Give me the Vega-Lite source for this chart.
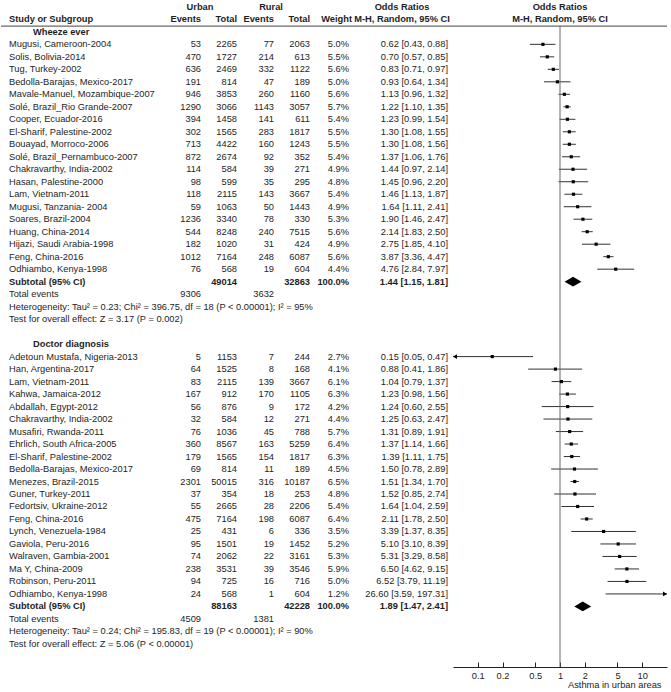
{
  "$schema": "https://vega.github.io/schema/vega-lite/v6.json",
  "padding": 0,
  "spacing": 0,
  "bounds": "flush",
  "background": "white",
  "config": {
    "view": {"stroke": null},
    "font": "Liberation Sans",
    "text": {"font": "Liberation Sans", "fontSize": 9.3, "color": "#1e1e1e"},
    "axis": {
      "grid": false,
      "labelFont": "Liberation Sans", "labelFontSize": 9.3, "labelColor": "#222", "labelPadding": 9, "labelFlush": false,
      "domainColor": "#222", "tickColor": "#222", "tickSize": -5,
      "titleFont": "Liberation Sans", "titleFontSize": 9.3, "titleFontWeight": "normal", "titleColor": "#222", "titlePadding": 0
    }
  },
  "data": {
    "values": [
      {"r": -2, "k": "top", "uh": "Urban", "rh": "Rural", "oh": "Odds Ratios"},
      {"r": -1, "k": "hd", "s": "Study or Subgroup", "ue": "Events", "ut": "Total", "re": "Events", "rt": "Total", "w": "Weight", "oh": "M-H, Random, 95% CI"},
      {"r": 0, "k": "h", "s": "Wheeze ever"},
      {"r": 1, "k": "s", "s": "Mugusi, Cameroon-2004", "ue": 53, "ut": 2265, "re": 77, "rt": 2063, "w": "5.0%", "ci": "0.62 [0.43, 0.88]", "or": 0.62, "lo": 0.43, "hi": 0.88},
      {"r": 2, "k": "s", "s": "Solis, Bolivia-2014", "ue": 470, "ut": 1727, "re": 214, "rt": 613, "w": "5.5%", "ci": "0.70 [0.57, 0.85]", "or": 0.70, "lo": 0.57, "hi": 0.85},
      {"r": 3, "k": "s", "s": "Tug, Turkey-2002", "ue": 636, "ut": 2469, "re": 332, "rt": 1122, "w": "5.6%", "ci": "0.83 [0.71, 0.97]", "or": 0.83, "lo": 0.71, "hi": 0.97},
      {"r": 4, "k": "s", "s": "Bedolla-Barajas, Mexico-2017", "ue": 191, "ut": 814, "re": 47, "rt": 189, "w": "5.0%", "ci": "0.93 [0.64, 1.34]", "or": 0.93, "lo": 0.64, "hi": 1.34},
      {"r": 5, "k": "s", "s": "Mavale-Manuel, Mozambique-2007", "ue": 946, "ut": 3853, "re": 260, "rt": 1160, "w": "5.6%", "ci": "1.13 [0.96, 1.32]", "or": 1.13, "lo": 0.96, "hi": 1.32},
      {"r": 6, "k": "s", "s": "Solé, Brazil_Rio Grande-2007", "ue": 1290, "ut": 3066, "re": 1143, "rt": 3057, "w": "5.7%", "ci": "1.22 [1.10, 1.35]", "or": 1.22, "lo": 1.10, "hi": 1.35},
      {"r": 7, "k": "s", "s": "Cooper, Ecuador-2016", "ue": 394, "ut": 1458, "re": 141, "rt": 611, "w": "5.4%", "ci": "1.23 [0.99, 1.54]", "or": 1.23, "lo": 0.99, "hi": 1.54},
      {"r": 8, "k": "s", "s": "El-Sharif, Palestine-2002", "ue": 302, "ut": 1565, "re": 283, "rt": 1817, "w": "5.5%", "ci": "1.30 [1.08, 1.55]", "or": 1.30, "lo": 1.08, "hi": 1.55},
      {"r": 9, "k": "s", "s": "Bouayad, Morroco-2006", "ue": 713, "ut": 4422, "re": 160, "rt": 1243, "w": "5.5%", "ci": "1.30 [1.08, 1.56]", "or": 1.30, "lo": 1.08, "hi": 1.56},
      {"r": 10, "k": "s", "s": "Solé, Brazil_Pernambuco-2007", "ue": 872, "ut": 2674, "re": 92, "rt": 352, "w": "5.4%", "ci": "1.37 [1.06, 1.76]", "or": 1.37, "lo": 1.06, "hi": 1.76},
      {"r": 11, "k": "s", "s": "Chakravarthy, India-2002", "ue": 114, "ut": 584, "re": 39, "rt": 271, "w": "4.9%", "ci": "1.44 [0.97, 2.14]", "or": 1.44, "lo": 0.97, "hi": 2.14},
      {"r": 12, "k": "s", "s": "Hasan, Palestine-2000", "ue": 98, "ut": 599, "re": 35, "rt": 295, "w": "4.8%", "ci": "1.45 [0.96, 2.20]", "or": 1.45, "lo": 0.96, "hi": 2.20},
      {"r": 13, "k": "s", "s": "Lam, Vietnam-2011", "ue": 118, "ut": 2115, "re": 143, "rt": 3667, "w": "5.4%", "ci": "1.46 [1.13, 1.87]", "or": 1.46, "lo": 1.13, "hi": 1.87},
      {"r": 14, "k": "s", "s": "Mugusi, Tanzania- 2004", "ue": 59, "ut": 1063, "re": 50, "rt": 1443, "w": "4.9%", "ci": "1.64 [1.11, 2.41]", "or": 1.64, "lo": 1.11, "hi": 2.41},
      {"r": 15, "k": "s", "s": "Soares, Brazil-2004", "ue": 1236, "ut": 3340, "re": 78, "rt": 330, "w": "5.3%", "ci": "1.90 [1.46, 2.47]", "or": 1.90, "lo": 1.46, "hi": 2.47},
      {"r": 16, "k": "s", "s": "Huang, China-2014", "ue": 544, "ut": 8248, "re": 240, "rt": 7515, "w": "5.6%", "ci": "2.14 [1.83, 2.50]", "or": 2.14, "lo": 1.83, "hi": 2.50},
      {"r": 17, "k": "s", "s": "Hijazi, Saudi Arabia-1998", "ue": 182, "ut": 1020, "re": 31, "rt": 424, "w": "4.9%", "ci": "2.75 [1.85, 4.10]", "or": 2.75, "lo": 1.85, "hi": 4.10},
      {"r": 18, "k": "s", "s": "Feng, China-2016", "ue": 1012, "ut": 7164, "re": 248, "rt": 6087, "w": "5.6%", "ci": "3.87 [3.36, 4.47]", "or": 3.87, "lo": 3.36, "hi": 4.47},
      {"r": 19, "k": "s", "s": "Odhiambo, Kenya-1998", "ue": 76, "ut": 568, "re": 19, "rt": 604, "w": "4.4%", "ci": "4.76 [2.84, 7.97]", "or": 4.76, "lo": 2.84, "hi": 7.97},
      {"r": 20, "k": "sub", "s": "Subtotal (95% CI)", "ut": 49014, "rt": 32863, "w": "100.0%", "ci": "1.44 [1.15, 1.81]", "or": 1.44, "lo": 1.15, "hi": 1.81},
      {"r": 21, "k": "ev", "s": "Total events", "ue": 9306, "re": 3632},
      {"r": 22, "k": "n", "s": "Heterogeneity: Tau² = 0.23; Chi² = 396.75, df = 18 (P < 0.00001); I² = 95%"},
      {"r": 23, "k": "n", "s": "Test for overall effect: Z = 3.17 (P = 0.002)"},
      {"r": 25, "k": "h", "s": "Doctor diagnosis"},
      {"r": 26, "k": "s", "s": "Adetoun Mustafa, Nigeria-2013", "ue": 5, "ut": 1153, "re": 7, "rt": 244, "w": "2.7%", "ci": "0.15 [0.05, 0.47]", "or": 0.15, "lo": 0.05, "hi": 0.47},
      {"r": 27, "k": "s", "s": "Han, Argentina-2017", "ue": 64, "ut": 1525, "re": 8, "rt": 168, "w": "4.1%", "ci": "0.88 [0.41, 1.86]", "or": 0.88, "lo": 0.41, "hi": 1.86},
      {"r": 28, "k": "s", "s": "Lam, Vietnam-2011", "ue": 83, "ut": 2115, "re": 139, "rt": 3667, "w": "6.1%", "ci": "1.04 [0.79, 1.37]", "or": 1.04, "lo": 0.79, "hi": 1.37},
      {"r": 29, "k": "s", "s": "Kahwa, Jamaica-2012", "ue": 167, "ut": 912, "re": 170, "rt": 1105, "w": "6.3%", "ci": "1.23 [0.98, 1.56]", "or": 1.23, "lo": 0.98, "hi": 1.56},
      {"r": 30, "k": "s", "s": "Abdallah, Egypt-2012", "ue": 56, "ut": 876, "re": 9, "rt": 172, "w": "4.2%", "ci": "1.24 [0.60, 2.55]", "or": 1.24, "lo": 0.60, "hi": 2.55},
      {"r": 31, "k": "s", "s": "Chakravarthy, India-2002", "ue": 32, "ut": 584, "re": 12, "rt": 271, "w": "4.4%", "ci": "1.25 [0.63, 2.47]", "or": 1.25, "lo": 0.63, "hi": 2.47},
      {"r": 32, "k": "s", "s": "Musafiri, Rwanda-2011", "ue": 76, "ut": 1036, "re": 45, "rt": 788, "w": "5.7%", "ci": "1.31 [0.89, 1.91]", "or": 1.31, "lo": 0.89, "hi": 1.91},
      {"r": 33, "k": "s", "s": "Ehrlich, South Africa-2005", "ue": 360, "ut": 8567, "re": 163, "rt": 5259, "w": "6.4%", "ci": "1.37 [1.14, 1.66]", "or": 1.37, "lo": 1.14, "hi": 1.66},
      {"r": 34, "k": "s", "s": "El-Sharif, Palestine-2002", "ue": 179, "ut": 1565, "re": 154, "rt": 1817, "w": "6.3%", "ci": "1.39 [1.11, 1.75]", "or": 1.39, "lo": 1.11, "hi": 1.75},
      {"r": 35, "k": "s", "s": "Bedolla-Barajas, Mexico-2017", "ue": 69, "ut": 814, "re": 11, "rt": 189, "w": "4.5%", "ci": "1.50 [0.78, 2.89]", "or": 1.50, "lo": 0.78, "hi": 2.89},
      {"r": 36, "k": "s", "s": "Menezes, Brazil-2015", "ue": 2301, "ut": 50015, "re": 316, "rt": 10187, "w": "6.5%", "ci": "1.51 [1.34, 1.70]", "or": 1.51, "lo": 1.34, "hi": 1.70},
      {"r": 37, "k": "s", "s": "Guner, Turkey-2011", "ue": 37, "ut": 354, "re": 18, "rt": 253, "w": "4.8%", "ci": "1.52 [0.85, 2.74]", "or": 1.52, "lo": 0.85, "hi": 2.74},
      {"r": 38, "k": "s", "s": "Fedortsiv, Ukraine-2012", "ue": 55, "ut": 2665, "re": 28, "rt": 2206, "w": "5.4%", "ci": "1.64 [1.04, 2.59]", "or": 1.64, "lo": 1.04, "hi": 2.59},
      {"r": 39, "k": "s", "s": "Feng, China-2016", "ue": 475, "ut": 7164, "re": 198, "rt": 6087, "w": "6.4%", "ci": "2.11 [1.78, 2.50]", "or": 2.11, "lo": 1.78, "hi": 2.50},
      {"r": 40, "k": "s", "s": "Lynch, Venezuela-1984", "ue": 25, "ut": 431, "re": 6, "rt": 336, "w": "3.5%", "ci": "3.39 [1.37, 8.35]", "or": 3.39, "lo": 1.37, "hi": 8.35},
      {"r": 41, "k": "s", "s": "Gaviola, Peru-2016", "ue": 95, "ut": 1501, "re": 19, "rt": 1452, "w": "5.2%", "ci": "5.10 [3.10, 8.39]", "or": 5.10, "lo": 3.10, "hi": 8.39},
      {"r": 42, "k": "s", "s": "Walraven, Gambia-2001", "ue": 74, "ut": 2062, "re": 22, "rt": 3161, "w": "5.3%", "ci": "5.31 [3.29, 8.58]", "or": 5.31, "lo": 3.29, "hi": 8.58},
      {"r": 43, "k": "s", "s": "Ma Y, China-2009", "ue": 238, "ut": 3531, "re": 39, "rt": 3546, "w": "5.9%", "ci": "6.50 [4.62, 9.15]", "or": 6.50, "lo": 4.62, "hi": 9.15},
      {"r": 44, "k": "s", "s": "Robinson, Peru-2011", "ue": 94, "ut": 725, "re": 16, "rt": 716, "w": "5.0%", "ci": "6.52 [3.79, 11.19]", "or": 6.52, "lo": 3.79, "hi": 11.19},
      {"r": 45, "k": "s", "s": "Odhiambo, Kenya-1998", "ue": 24, "ut": 568, "re": 1, "rt": 604, "w": "1.2%", "ci": "26.60 [3.59, 197.31]", "or": 26.60, "lo": 3.59, "hi": 197.31},
      {"r": 46, "k": "sub", "s": "Subtotal (95% CI)", "ut": 88163, "rt": 42228, "w": "100.0%", "ci": "1.89 [1.47, 2.41]", "or": 1.89, "lo": 1.47, "hi": 2.41},
      {"r": 47, "k": "ev", "s": "Total events", "ue": 4509, "re": 1381},
      {"r": 48, "k": "n", "s": "Heterogeneity: Tau² = 0.24; Chi² = 195.83, df = 19 (P < 0.00001); I² = 90%"},
      {"r": 49, "k": "n", "s": "Test for overall effect: Z = 5.06 (P < 0.00001)"}
    ]
  },
  "hconcat": [
    {
      "width": 452,
      "height": 667,
      "encoding": {
        "y": {"field": "r", "type": "quantitative", "scale": {"domain": [-2.55, 50.85], "reverse": true, "zero": false, "nice": false}, "axis": null}
      },
      "layer": [
        {
          "transform": [{"filter": "isValid(datum.s) && datum.k != 'h'"}],
          "mark": {"type": "text", "align": "left", "fontWeight": {"expr": "datum.k == 'sub' || datum.k == 'hd' ? 'bold' : 'normal'"}},
          "encoding": {
            "x": {"datum": 8, "type": "quantitative", "scale": {"domain": [0, 452], "nice": false, "zero": false}, "axis": null},
            "text": {"field": "s", "type": "nominal"}
          }
        },
        {
          "transform": [{"filter": "datum.k == 'h'"}],
          "mark": {"type": "text", "align": "left", "fontWeight": "bold"},
          "encoding": {
            "x": {"datum": 32, "type": "quantitative", "scale": {"domain": [0, 452], "nice": false, "zero": false}, "axis": null},
            "text": {"field": "s", "type": "nominal"}
          }
        },
        {
          "transform": [{"filter": "isValid(datum.ue)"}],
          "mark": {"type": "text", "align": "right", "fontWeight": {"expr": "datum.k == 'sub' || datum.k == 'hd' ? 'bold' : 'normal'"}},
          "encoding": {
            "x": {"datum": 200, "type": "quantitative", "scale": {"domain": [0, 452], "nice": false, "zero": false}, "axis": null},
            "text": {"field": "ue", "type": "nominal"}
          }
        },
        {
          "transform": [{"filter": "isValid(datum.ut)"}],
          "mark": {"type": "text", "align": "right", "fontWeight": {"expr": "datum.k == 'sub' || datum.k == 'hd' ? 'bold' : 'normal'"}},
          "encoding": {
            "x": {"datum": 236, "type": "quantitative", "scale": {"domain": [0, 452], "nice": false, "zero": false}, "axis": null},
            "text": {"field": "ut", "type": "nominal"}
          }
        },
        {
          "transform": [{"filter": "isValid(datum.re)"}],
          "mark": {"type": "text", "align": "right", "fontWeight": {"expr": "datum.k == 'sub' || datum.k == 'hd' ? 'bold' : 'normal'"}},
          "encoding": {
            "x": {"datum": 273, "type": "quantitative", "scale": {"domain": [0, 452], "nice": false, "zero": false}, "axis": null},
            "text": {"field": "re", "type": "nominal"}
          }
        },
        {
          "transform": [{"filter": "isValid(datum.rt)"}],
          "mark": {"type": "text", "align": "right", "fontWeight": {"expr": "datum.k == 'sub' || datum.k == 'hd' ? 'bold' : 'normal'"}},
          "encoding": {
            "x": {"datum": 309, "type": "quantitative", "scale": {"domain": [0, 452], "nice": false, "zero": false}, "axis": null},
            "text": {"field": "rt", "type": "nominal"}
          }
        },
        {
          "transform": [{"filter": "isValid(datum.w)"}],
          "mark": {"type": "text", "align": "right", "dx": {"expr": "datum.k == 'hd' ? 3 : 0"}, "fontWeight": {"expr": "datum.k == 'sub' || datum.k == 'hd' ? 'bold' : 'normal'"}},
          "encoding": {
            "x": {"datum": 348, "type": "quantitative", "scale": {"domain": [0, 452], "nice": false, "zero": false}, "axis": null},
            "text": {"field": "w", "type": "nominal"}
          }
        },
        {
          "transform": [{"filter": "isValid(datum.ci)"}],
          "mark": {"type": "text", "align": "right", "fontWeight": {"expr": "datum.k == 'sub' ? 'bold' : 'normal'"}},
          "encoding": {
            "x": {"datum": 447, "type": "quantitative", "scale": {"domain": [0, 452], "nice": false, "zero": false}, "axis": null},
            "text": {"field": "ci", "type": "nominal"}
          }
        },
        {
          "transform": [{"filter": "isValid(datum.oh)"}],
          "mark": {"type": "text", "align": "center", "fontWeight": "bold"},
          "encoding": {
            "x": {"datum": 401, "type": "quantitative", "scale": {"domain": [0, 452], "nice": false, "zero": false}, "axis": null},
            "text": {"field": "oh", "type": "nominal"}
          }
        },
        {
          "transform": [{"filter": "isValid(datum.uh)"}],
          "mark": {"type": "text", "align": "center", "fontWeight": "bold"},
          "encoding": {
            "x": {"datum": 199, "type": "quantitative", "scale": {"domain": [0, 452], "nice": false, "zero": false}, "axis": null},
            "text": {"field": "uh", "type": "nominal"}
          }
        },
        {
          "transform": [{"filter": "isValid(datum.rh)"}],
          "mark": {"type": "text", "align": "center", "fontWeight": "bold"},
          "encoding": {
            "x": {"datum": 270, "type": "quantitative", "scale": {"domain": [0, 452], "nice": false, "zero": false}, "axis": null},
            "text": {"field": "rh", "type": "nominal"}
          }
        },
        {
          "transform": [{"filter": "datum.r == -1"}],
          "mark": {"type": "rule", "color": "#444", "strokeWidth": 1},
          "encoding": {
            "x": {"datum": 0, "type": "quantitative", "scale": {"domain": [0, 452], "nice": false, "zero": false}, "axis": null},
            "x2": {"datum": 452},
            "y": {"datum": -0.46, "type": "quantitative"}
          }
        }
      ]
    },
    {
      "width": 214,
      "height": 667,
      "encoding": {
        "y": {"field": "r", "type": "quantitative", "scale": {"domain": [-2.55, 50.85], "reverse": true, "zero": false, "nice": false}, "axis": null}
      },
      "layer": [
        {
          "transform": [{"filter": "datum.k == 's'"}],
          "mark": {"type": "rule", "color": "#333", "strokeWidth": 1},
          "encoding": {
            "x": {
              "field": "lo", "type": "quantitative",
              "scale": {"type": "log", "domain": [0.05, 20], "clamp": true, "nice": false},
              "axis": {
                "values": [0.1, 0.2, 0.5, 1, 2, 5, 10], "format": "~g",
                "title": "Asthma in urban areas", "titleAnchor": "end", "titleAlign": "right", "titleX": 208
              }
            },
            "x2": {"field": "hi"}
          }
        },
        {
          "transform": [{"filter": "datum.r == -1"}],
          "mark": {"type": "rule", "color": "#666", "strokeWidth": 1},
          "encoding": {
            "x": {"datum": 1, "type": "quantitative"},
            "y": {"datum": -0.46, "type": "quantitative"},
            "y2": {"datum": 50.85}
          }
        },
        {
          "transform": [{"filter": "datum.r == -1"}],
          "mark": {"type": "rule", "color": "#444", "strokeWidth": 1},
          "encoding": {
            "x": {"datum": 0.05, "type": "quantitative"},
            "x2": {"datum": 20},
            "y": {"datum": -0.46, "type": "quantitative"}
          }
        },
        {
          "transform": [{"filter": "isValid(datum.oh)"}],
          "mark": {"type": "text", "align": "center", "fontWeight": "bold"},
          "encoding": {
            "x": {"datum": 1, "type": "quantitative"},
            "text": {"field": "oh", "type": "nominal"}
          }
        },
        {
          "transform": [{"filter": "datum.k == 's' && datum.or <= 20"}],
          "mark": {"type": "point", "shape": "square", "filled": true, "color": "#000", "opacity": 1, "size": 10},
          "encoding": {
            "x": {"field": "or", "type": "quantitative"}
          }
        },
        {
          "transform": [{"filter": "datum.k == 'sub'"}],
          "mark": {"type": "point", "shape": "M-1,0L0,-0.58L1,0L0,0.58Z", "filled": true, "color": "#000", "opacity": 1, "size": 285},
          "encoding": {
            "x": {"field": "or", "type": "quantitative"}
          }
        },
        {
          "transform": [{"filter": "datum.k == 's' && datum.lo <= 0.05"}],
          "mark": {"type": "point", "shape": "M0,0L2,-1.2L2,1.2Z", "filled": true, "color": "#000", "opacity": 1, "size": 16},
          "encoding": {
            "x": {"field": "lo", "type": "quantitative"}
          }
        },
        {
          "transform": [{"filter": "datum.k == 's' && datum.hi >= 20"}],
          "mark": {"type": "point", "shape": "M0,0L-2,-1.2L-2,1.2Z", "filled": true, "color": "#000", "opacity": 1, "size": 16},
          "encoding": {
            "x": {"field": "hi", "type": "quantitative"}
          }
        }
      ]
    }
  ]
}
